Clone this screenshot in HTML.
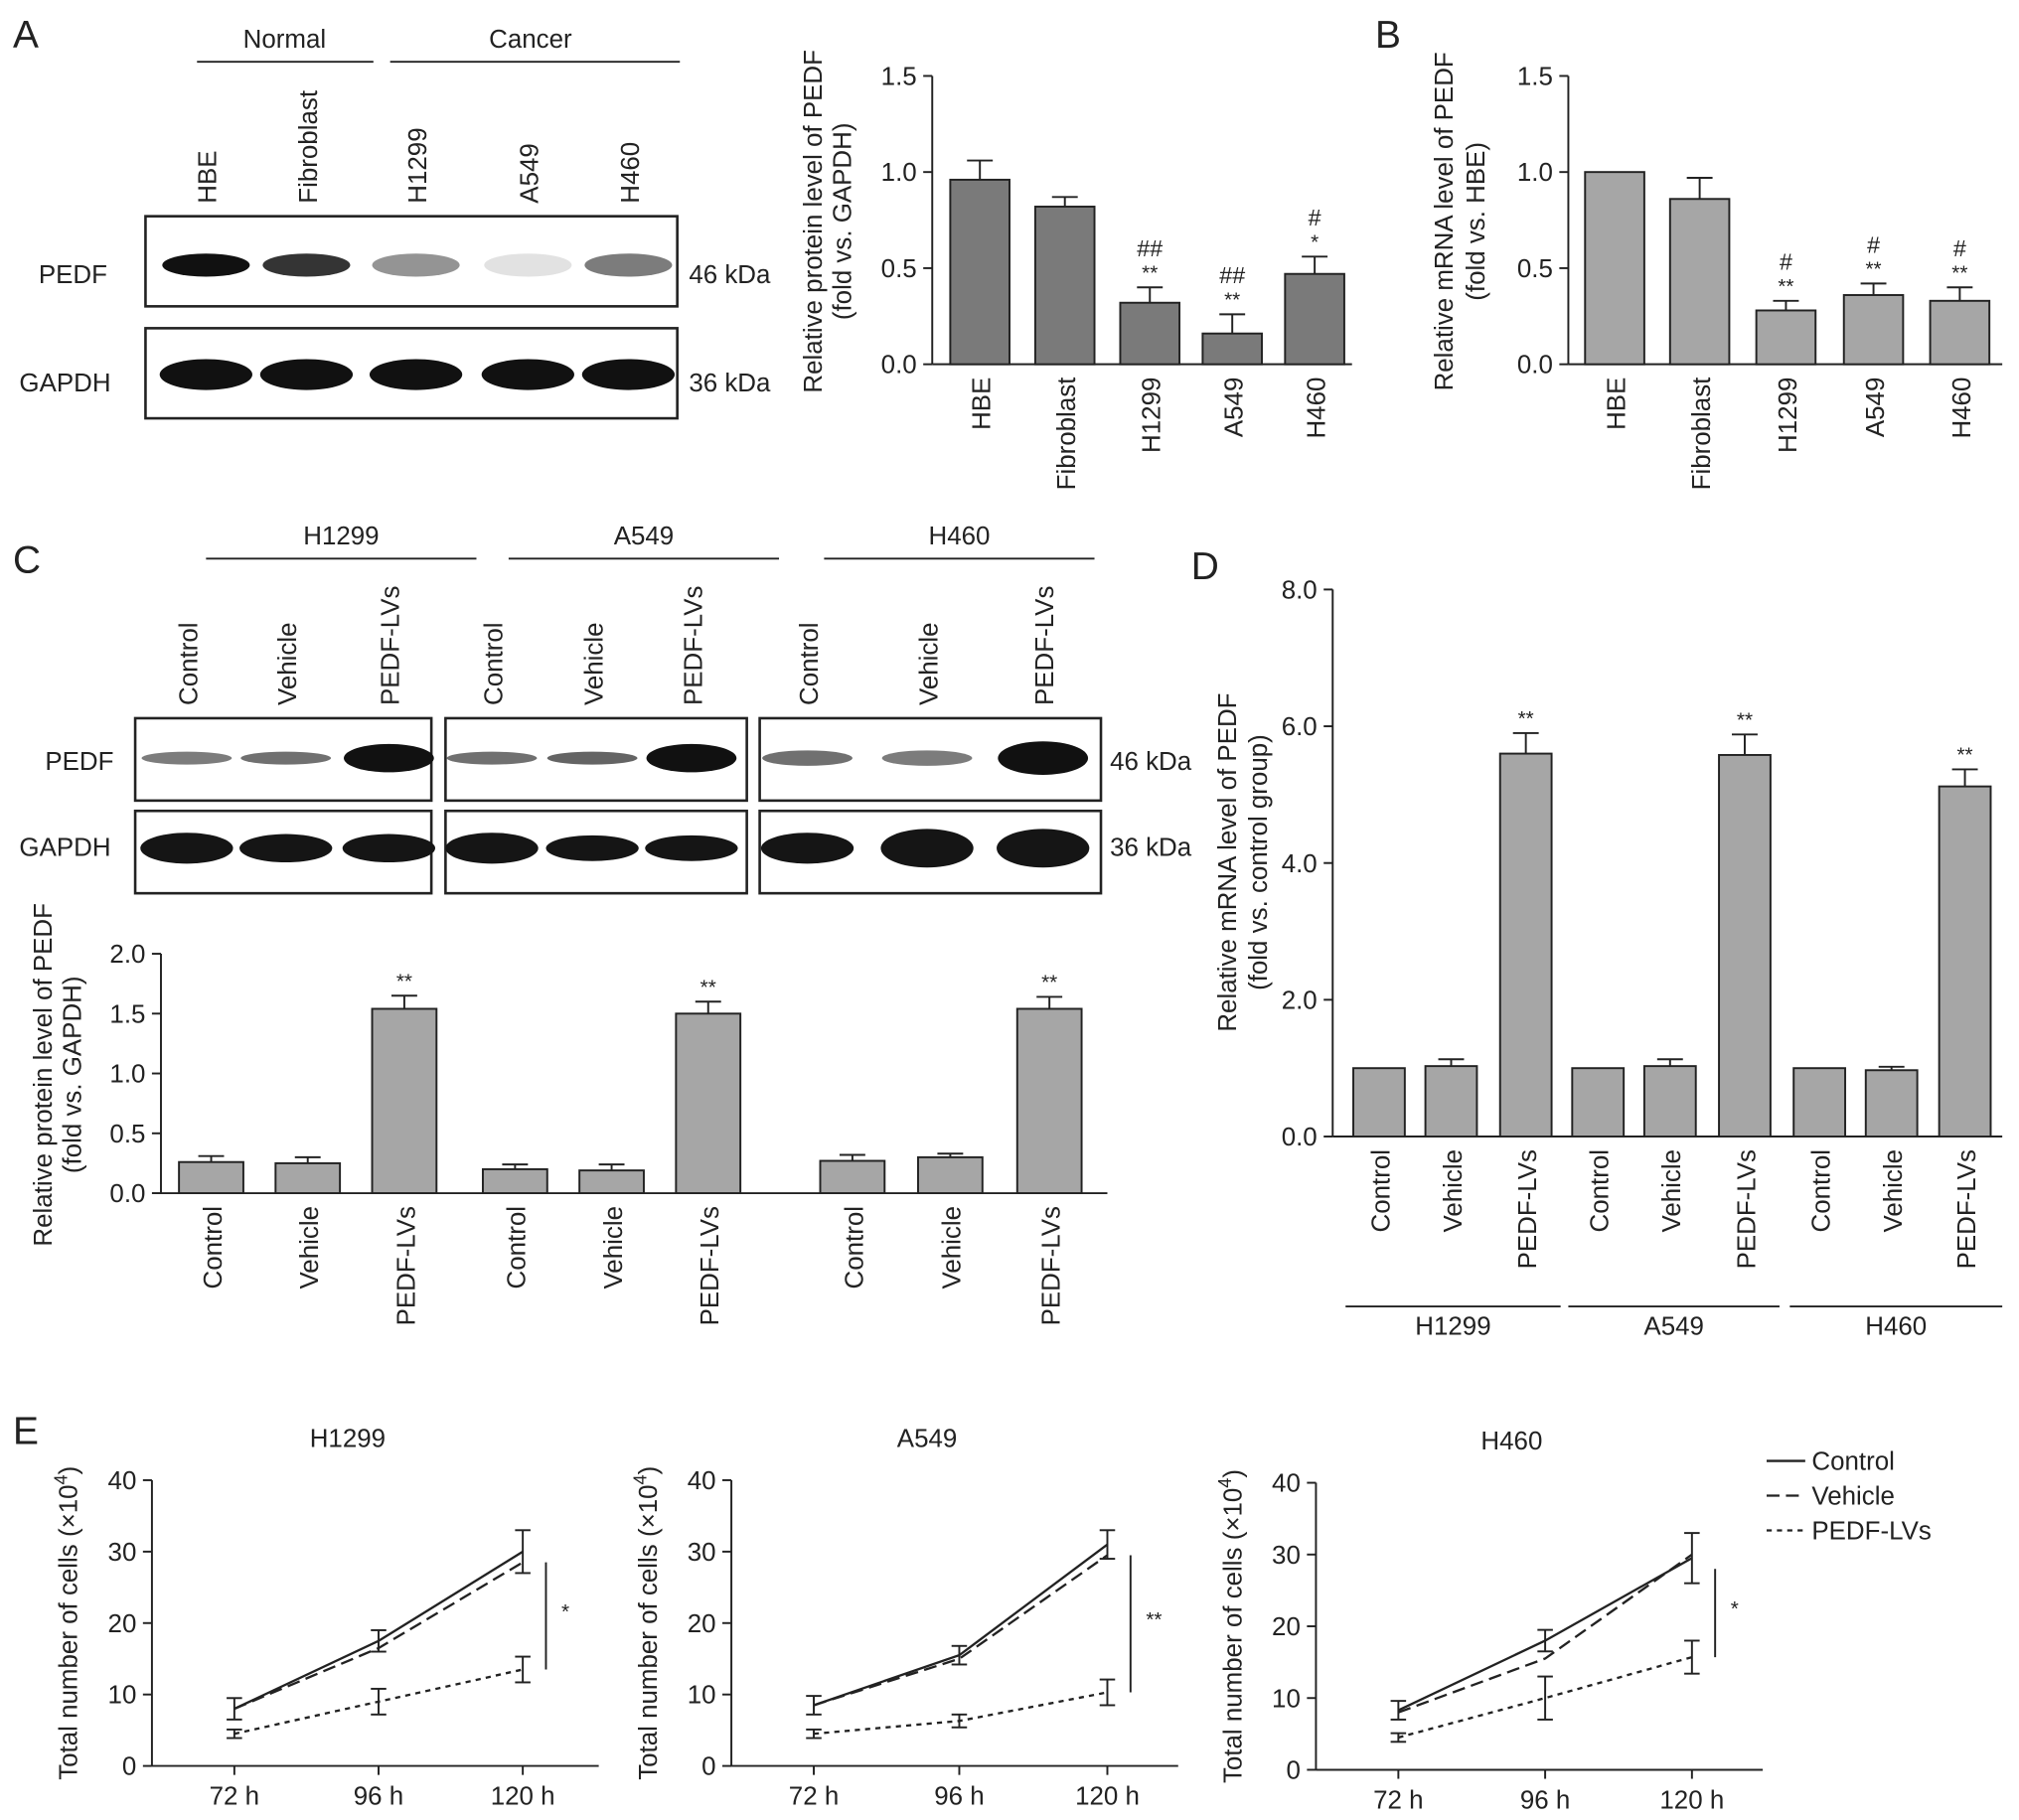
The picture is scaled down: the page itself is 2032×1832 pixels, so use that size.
<!DOCTYPE html>
<html><head><meta charset="utf-8">
<style>
html,body{margin:0;padding:0;background:#fff;}
svg{display:block;font-family:"Liberation Sans",sans-serif;}
</style></head>
<body>
<svg id="fig" width="2032" height="1832" viewBox="0 0 1568 1414" preserveAspectRatio="none" xmlns="http://www.w3.org/2000/svg"></svg>
<script>
// ---------- DATA ----------
const aCats=["HBE","Fibroblast","H1299","A549","H460"];
const aVals=[0.96,0.82,0.32,0.16,0.47];
const aErr=[0.10,0.05,0.08,0.10,0.09];
const aSig1=["","","**","**","*"];
const aSig2=["","","##","##","#"];
const bVals=[1.0,0.86,0.28,0.36,0.33];
const bErr=[0,0.11,0.05,0.06,0.07];
const bSig1=["","","**","**","**"];
const bSig2=["","","#","#","#"];
const abTicks=[0,0.5,1.0,1.5];
const cCats=["Control","Vehicle","PEDF-LVs","Control","Vehicle","PEDF-LVs","Control","Vehicle","PEDF-LVs"];
const cVals=[0.26,0.25,1.54,0.20,0.19,1.50,0.27,0.30,1.54];
const cErr=[0.05,0.05,0.11,0.04,0.05,0.10,0.05,0.03,0.10];
const cTicks=[0,0.5,1.0,1.5,2.0];
const dVals=[1.0,1.03,5.6,1.0,1.03,5.58,1.0,0.97,5.12];
const dErr=[0,0.10,0.30,0,0.10,0.30,0,0.05,0.25];
const dTicks=[0,2,4,6,8];
const sigCD=["","","**","","","**","","","**"];
const eTimes=["72 h","96 h","120 h"];
const eTicks=[0,10,20,30,40];
const eCtrl=[[8,17.5,30],[8.5,15.5,31],[8.3,18,29.5]];
const eVeh=[[8,16.5,28.5],[8.5,15,29.5],[8,15.5,30]];
const ePedf=[[4.5,9,13.5],[4.5,6.3,10.3],[4.5,10,15.7]];
const eCtrlErr=[[1.5,1.5,3],[1.3,1.3,2],[1.3,1.5,3.5]];
const ePedfErr=[[0.6,1.8,1.8],[0.6,0.9,1.8],[0.6,3,2.3]];
const eTitles=["H1299","A549","H460"];
const eSig=["*","**","*"];

// ---------- HELPERS ----------
const svg=document.getElementById('fig');
const NS="http://www.w3.org/2000/svg";
function mk(tag,attrs,parent,txt){const e=document.createElementNS(NS,tag);for(const k in attrs)e.setAttribute(k,attrs[k]);if(txt!==undefined)e.textContent=txt;(parent||svg).appendChild(e);return e;}
function line(x1,y1,x2,y2,p,w,dash){return mk('line',{x1,y1,x2,y2,stroke:'#222','stroke-width':w||1.5,'stroke-dasharray':dash||'none'},p);}
function text(x,y,s,p,opt){opt=opt||{};const a={x,y,'font-size':opt.fs||20,fill:'#222','text-anchor':opt.anchor||'middle'};if(opt.rot)a.transform=`rotate(${opt.rot} ${x} ${y})`;return mk('text',a,p,s);}

// ---------- PANEL LETTERS ----------
[["A",10,37],["B",1068,37],["C",10,445],["D",925,450],["E",10,1122]].forEach(([l,x,y])=>{
 const t=text(x,y,l,svg,{fs:30,anchor:'start'});
 
 
});

// ---------- BLOT A ----------
const blotA=mk('g',{});


line(153,48,290,48,blotA);line(303,48,528,48,blotA);
text(221,37,"Normal",blotA);text(412,37,"Cancer",blotA);
const laneA=[160,238,323,410,488];
aCats.forEach((c,i)=>text(laneA[i]+8,158,c,blotA,{anchor:'start',rot:-90}));
mk('rect',{x:113,y:168,width:413,height:70,fill:'#fff',stroke:'#222','stroke-width':2},blotA);
mk('rect',{x:113,y:255,width:413,height:70,fill:'#fff',stroke:'#222','stroke-width':2},blotA);
const pedfA=[1,0.85,0.45,0.12,0.55];
laneA.forEach((x,i)=>{mk('ellipse',{cx:x,cy:206,rx:34,ry:9,fill:'#111',opacity:pedfA[i]},blotA);
 mk('ellipse',{cx:x,cy:291,rx:36,ry:12,fill:'#111'},blotA);});
text(30,220,"PEDF",blotA,{anchor:'start'});text(15,304,"GAPDH",blotA,{anchor:'start'});
text(535,220,"46 kDa",blotA,{anchor:'start'});text(535,304,"36 kDa",blotA,{anchor:'start'});

// ---------- BAR CHART ----------
function barChart(o){
 const g=mk('g',{});
 
 
 const y=v=>o.y0-(v-o.ticks[0])/(o.ticks[o.ticks.length-1]-o.ticks[0])*(o.y0-o.y1);
 line(o.ax,o.y1,o.ax,o.y0,g);line(o.ax,o.y0,o.xEnd,o.y0,g);
 o.ticks.forEach(t=>{line(o.ax-7,y(t),o.ax,y(t),g);text(o.ax-12,y(t)+7,t.toFixed(1),g,{anchor:'end'});});
 o.vals.forEach((v,i)=>{
  const cx=o.xs[i];
  const r=mk('rect',{x:cx-o.bw/2,y:y(v),width:o.bw,height:o.y0-y(v),fill:o.color,stroke:'#222','stroke-width':1.5},g);
  
  
  if(o.err[i]>0){line(cx,y(v),cx,y(v+o.err[i]),g);line(cx-10,y(v+o.err[i]),cx+10,y(v+o.err[i]),g);}
  const top=y(v+o.err[i]);
  if(o.sig1&&o.sig1[i])text(cx,top-6,o.sig1[i],g,{fs:16});
  if(o.sig2&&o.sig2[i])text(cx,top-24,o.sig2[i],g,{fs:18});
  text(cx+8,o.y0+10,o.cats[i],g,{anchor:'end',rot:-90});
 });
 o.ylab.forEach((s,k)=>text(o.ylx[k],o.ylc,s,g,{rot:-90}));
 return g;
}
barChart({name:'chart-a-protein',ax:724,y0:283,y1:59,xEnd:1050,ticks:abTicks,xs:[761,827,893,957,1021],bw:46,vals:aVals,err:aErr,sig1:aSig1,sig2:aSig2,cats:aCats,color:'#7a7a7a',ylab:["Relative protein level of PEDF","(fold vs. GAPDH)"],ylx:[638,661],ylc:172});
barChart({name:'chart-b-mrna',ax:1218,y0:283,y1:59,xEnd:1555,ticks:abTicks,xs:[1254,1320,1387,1455,1522],bw:46,vals:bVals,err:bErr,sig1:bSig1,sig2:bSig2,cats:aCats,color:'#a6a6a6',ylab:["Relative mRNA level of PEDF","(fold vs. HBE)"],ylx:[1128,1153],ylc:172});

// ---------- BLOT C ----------
const blotC=mk('g',{});


[[160,370,"H1299"],[395,605,"A549"],[640,850,"H460"]].forEach(([a,b,l])=>{line(a,434,b,434,blotC);text((a+b)/2,423,l,blotC);});
const laneC=[145,222,302,382,460,537,627,720,810];
laneC.forEach((x,i)=>text(x+8,548,cCats[i],blotC,{anchor:'start',rot:-90}));
const boxesC=[[105,335],[346,580],[590,855]];
boxesC.forEach(([a,b])=>{mk('rect',{x:a,y:558,width:b-a,height:64,fill:'#fff',stroke:'#222','stroke-width':2},blotC);
 mk('rect',{x:a,y:630,width:b-a,height:64,fill:'#fff',stroke:'#222','stroke-width':2},blotC);});
const pC=[[0.55,5],[0.6,5],[1,11],[0.6,5],[0.65,5],[1,11],[0.6,6],[0.55,6],[1,13]];
const gC=[12,11,11,12,10,10,12,15,15];
laneC.forEach((x,i)=>{mk('ellipse',{cx:x,cy:589,rx:35,ry:pC[i][1],fill:'#111',opacity:pC[i][0]},blotC);
 mk('ellipse',{cx:x,cy:659,rx:36,ry:gC[i],fill:'#151515'},blotC);});
text(35,598,"PEDF",blotC,{anchor:'start'});text(15,665,"GAPDH",blotC,{anchor:'start'});
text(862,598,"46 kDa",blotC,{anchor:'start'});text(862,665,"36 kDa",blotC,{anchor:'start'});

barChart({name:'chart-c-protein',ax:125,y0:927,y1:741,xEnd:860,ticks:cTicks,xs:[164,239,314,400,475,550,662,738,815],bw:50,vals:cVals,err:cErr,sig1:sigCD,cats:cCats,color:'#a6a6a6',ylab:["Relative protein level of PEDF","(fold vs. GAPDH)"],ylx:[40,63],ylc:835});
barChart({name:'chart-d-mrna',ax:1035,y0:883,y1:458,xEnd:1555,ticks:dTicks,xs:[1071,1127,1185,1241,1297,1355,1413,1469,1526],bw:40,vals:dVals,err:dErr,sig1:sigCD,cats:cCats,color:'#a6a6a6',ylab:["Relative mRNA level of PEDF","(fold vs. control group)"],ylx:[960,984],ylc:670});
const dg=mk('g',{});


[[1045,1212,"H1299"],[1218,1382,"A549"],[1390,1555,"H460"]].forEach(([a,b,l])=>{line(a,1015,b,1015,dg);text((a+b)/2,1037,l,dg);});

// ---------- PANEL E ----------
const eAx=[[118,1372,1150,[182,294,406]],[568,1372,1150,[632,745,860]],[1022,1375,1152,[1086,1200,1314]]];
eTitles.forEach((t,k)=>{
 const [ax,y0,y1,xs]=eAx[k];
 const g=mk('g',{});
 
 
 const y=v=>y0-v/40*(y0-y1);
 line(ax,y1,ax,y0,g);line(ax,y0,ax+347,y0,g);
 eTicks.forEach(v=>{line(ax-7,y(v),ax,y(v),g);text(ax-12,y(v)+7,String(v),g,{anchor:'end'});});
 eTimes.forEach((s,i)=>{line(xs[i],y0,xs[i],y0+7,g);text(xs[i],y0+30,s,g);});
 text(ax+152,y1-26,t,g);
 const yl=text(ax-58,(y0+y1)/2,"",g,{rot:-90});
 yl.textContent="Total number of cells (\u00d710";
 mk('tspan',{dy:-8,'font-size':14},yl,"4");
 mk('tspan',{dy:8},yl,")");
 const series=[[eCtrl[k],eCtrlErr[k],'none','control'],[eVeh[k],eCtrlErr[k],'10,5','vehicle'],[ePedf[k],ePedfErr[k],'4,4','pedf-lvs']];
 series.forEach(([vals,err,dash,nm])=>{
  const p=mk('polyline',{points:vals.map((v,i)=>xs[i]+','+y(v)).join(' '),fill:'none',stroke:'#222','stroke-width':1.8,'stroke-dasharray':dash},g);
  
  
  if(nm!=='vehicle')vals.forEach((v,i)=>{line(xs[i],y(v-err[i]),xs[i],y(v+err[i]),g);line(xs[i]-6,y(v-err[i]),xs[i]+6,y(v-err[i]),g);line(xs[i]-6,y(v+err[i]),xs[i]+6,y(v+err[i]),g);});
 });
 const bx=xs[2]+18;
 line(bx,y(eCtrl[k][2]-1.5),bx,y(ePedf[k][2]),g);
 text(bx+12,y((eCtrl[k][2]+ePedf[k][2])/2)+6,eSig[k],g,{fs:16,anchor:'start'});
});
const leg=mk('g',{});


[["Control",'none',1135],["Vehicle",'10,5',1162],["PEDF-LVs",'4,4',1189]].forEach(([l,d,yy])=>{
 const e=mk('g',{},leg);
 
 
 line(1372,yy,1402,yy,e,1.8,d);text(1407,yy+7,l,e,{anchor:'start'});
});
</script>
</body></html>
